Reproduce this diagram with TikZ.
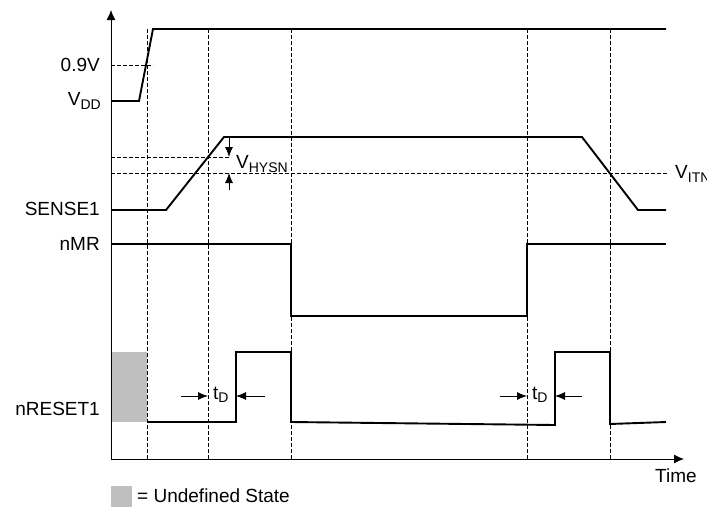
\documentclass[tikz,border=0pt]{standalone}
\usepackage{fontspec}
\setmainfont{Liberation Sans}
\usetikzlibrary{arrows.meta}
\newcommand{\sbx}[1]{{\fontsize{14}{14}\selectfont\raisebox{-3.5pt}{#1}}}
\begin{document}
\begin{tikzpicture}[x=1pt,y=-1pt,
  sig/.style={line width=1.9pt,line join=miter},
  axis/.style={line width=1pt,-{Latex[length=10pt,width=9pt]}},
  guide/.style={line width=0.8pt,dash pattern=on 3.5pt off 2.5pt},
  dimarrow/.style={line width=0.8pt,-{Latex[length=10pt,width=8pt]}},
  lbl/.style={inner sep=0pt,font=\fontsize{19}{22}\selectfont},
  ]
\useasboundingbox (0,0) rectangle (707,507);
% undefined state
\fill[gray!50] (111,352) rectangle (147,422);
% guides
\foreach \x in {147,208,291,527,610}
  \draw[guide] (\x,29) -- (\x,459);
\draw[guide] (111,65) -- (153,65);
\draw[guide] (111,157) -- (231,157);
\draw[guide] (111,173) -- (667,173);
% axes
\coordinate (o) at (111,459);
\coordinate (ytip) at (111,10);
\coordinate (xtip) at (684,459);
\draw[axis] (o) -- (ytip);
\draw[axis] (o) -- (xtip);
% VDD
\coordinate (v0) at (111,101);
\coordinate (v1) at (139,101);
\coordinate (v2) at (153,29);
\coordinate (v3) at (666,29);
\draw[sig] (v0) -- (v1) -- (v2) -- (v3);
% SENSE1
\coordinate (s0) at (111,210);
\coordinate (s1) at (166,210);
\coordinate (s2) at (224,137);
\coordinate (s3) at (582,137);
\coordinate (s4) at (638,210);
\coordinate (s5) at (666,210);
\draw[sig] (s0) -- (s1) -- (s2) -- (s3) -- (s4) -- (s5);
% nMR
\coordinate (m0) at (111,244);
\coordinate (m1) at (291,244);
\coordinate (m2) at (291,316);
\coordinate (m3) at (527,316);
\coordinate (m4) at (527,244);
\coordinate (m5) at (666,244);
\draw[sig] (m0) -- (m1) -- (m2) -- (m3) -- (m4) -- (m5);
% nRESET1
\coordinate (r0) at (147,422);
\coordinate (r1) at (236,422);
\coordinate (r2) at (236,352);
\coordinate (r3) at (291,352);
\coordinate (r4) at (291,422);
\coordinate (r5) at (555,425);
\coordinate (r6) at (555,352);
\coordinate (r7) at (610,352);
\coordinate (r8) at (610,424);
\coordinate (r9) at (666,422);
\draw[sig] (r0) -- (r1) -- (r2) -- (r3) -- (r4) -- (r5) -- (r6) -- (r7) -- (r8) -- (r9);
% VHYSN arrows
\coordinate (h0) at (229,137);
\coordinate (h1) at (229,157);
\coordinate (h2) at (229,190);
\coordinate (h3) at (229,173);
\draw[dimarrow] (h0) -- (h1);
\draw[dimarrow] (h2) -- (h3);
\node[lbl,anchor=west] (vhysn) at (236,164) {V\sbx{HYSN}};
\node[lbl,anchor=west] (vitn) at (675,174) {V\sbx{ITN}};
% tD arrows
\coordinate (a0) at (181,396); \coordinate (a1) at (208,396);
\coordinate (a2) at (265,396); \coordinate (a3) at (236,396);
\draw[dimarrow] (a0) -- (a1);
\draw[dimarrow] (a2) -- (a3);
\node[lbl,anchor=west] (td1) at (213,395) {t\sbx{D}};
\coordinate (b0) at (500,396); \coordinate (b1) at (527,396);
\coordinate (b2) at (582,396); \coordinate (b3) at (555,396);
\draw[dimarrow] (b0) -- (b1);
\draw[dimarrow] (b2) -- (b3);
\node[lbl,anchor=west] (td2) at (532,395) {t\sbx{D}};
% labels
\node[lbl,anchor=east] (l09) at (100,65) {0.9V};
\node[lbl,anchor=east] (lvdd) at (101,101) {V\sbx{DD}};
\node[lbl,anchor=east] (lsense) at (100,209) {SENSE1};
\node[lbl,anchor=east] (lnmr) at (100,244) {nMR};
\node[lbl,anchor=east] (lnrst) at (100,409) {nRESET1};
\node[lbl,anchor=west] (ltime) at (655,476) {Time};
% legend
\fill[gray!50] (111,486) rectangle (132,507);
\node[lbl,anchor=west] (leg) at (137,496) {= Undefined State};
\end{tikzpicture}
\end{document}
